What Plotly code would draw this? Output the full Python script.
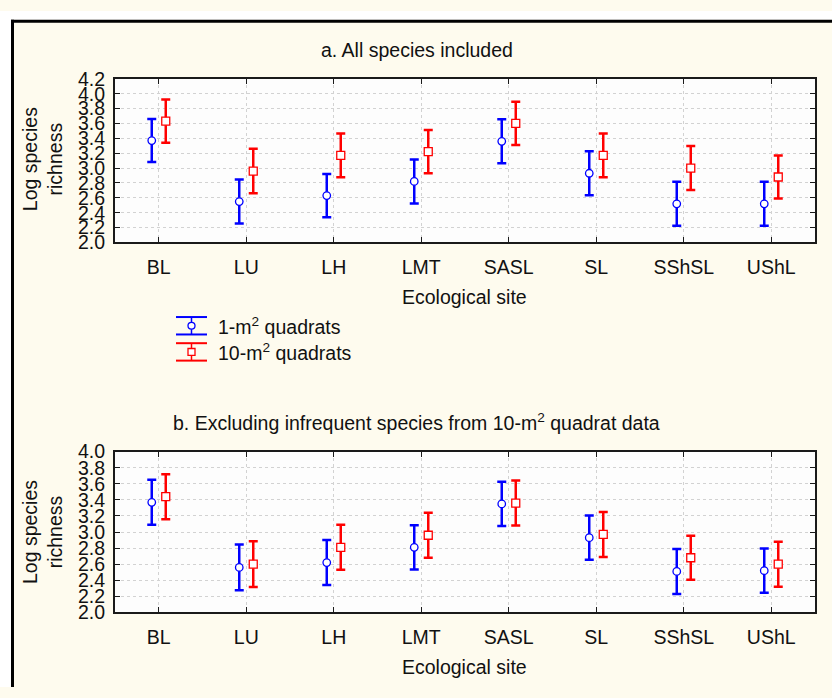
import plotly.graph_objects as go

# Ecological sites (x categories)
sites = ["BL", "LU", "LH", "LMT", "SASL", "SL", "SShSL", "UShL"]

# Panel a: all species included (mean log richness and half-width of error bar)
a_1m = [3.37, 2.55, 2.63, 2.82, 3.36, 2.93, 2.52, 2.52]
a_1m_err = [0.29, 0.295, 0.29, 0.295, 0.295, 0.295, 0.295, 0.295]
a_10m = [3.63, 2.96, 3.17, 3.22, 3.60, 3.17, 3.00, 2.88]
a_10m_err = [0.29, 0.30, 0.295, 0.29, 0.29, 0.295, 0.295, 0.29]

# Panel b: infrequent species excluded from the 10-m2 data
b_1m = [3.37, 2.56, 2.62, 2.81, 3.35, 2.93, 2.51, 2.52]
b_1m_err = [0.28, 0.285, 0.28, 0.275, 0.275, 0.275, 0.28, 0.275]
b_10m = [3.44, 2.60, 2.81, 2.96, 3.36, 2.97, 2.68, 2.60]
b_10m_err = [0.28, 0.285, 0.28, 0.28, 0.28, 0.28, 0.275, 0.28]

a_yticks = [2.0, 2.2, 2.4, 2.6, 2.8, 3.0, 3.2, 3.4, 3.6, 3.8, 4.0, 4.2]
b_yticks = [2.0, 2.2, 2.4, 2.6, 2.8, 3.0, 3.2, 3.4, 3.6, 3.8, 4.0]

W, H = 832, 698
FONT = "Liberation Sans, Arial, sans-serif"
FS = 19.5
BLUE = "#0000FF"
RED = "#FF0000"
CREAM = "#FEFBEE"
GRID = "#d2d2d2"
OFF = 0.08


def px(x):
    return x / W


def py(y):
    return 1 - y / H


idx = list(range(len(sites)))
fig = go.Figure()


def add_pair(y1, e1, y10, e10, xa, ya):
    fig.add_trace(go.Scatter(
        x=[i - OFF for i in idx], y=y1, mode="markers", xaxis=xa, yaxis=ya,
        showlegend=False,
        error_y=dict(type="data", array=e1, symmetric=True, color=BLUE,
                     thickness=2.5, width=4.5),
        marker=dict(symbol="circle", size=7.5, color="white",
                    line=dict(color=BLUE, width=1.3)),
    ))
    fig.add_trace(go.Scatter(
        x=[i + OFF for i in idx], y=y10, mode="markers", xaxis=xa, yaxis=ya,
        showlegend=False,
        error_y=dict(type="data", array=e10, symmetric=True, color=RED,
                     thickness=2.5, width=4.5),
        marker=dict(symbol="square", size=8, color="white",
                    line=dict(color=RED, width=1.3)),
    ))


add_pair(a_1m, a_1m_err, a_10m, a_10m_err, "x", "y")
add_pair(b_1m, b_1m_err, b_10m, b_10m_err, "x2", "y2")

xcommon = dict(
    range=[-0.5, 7.5], tickmode="array", tickvals=idx, ticktext=sites,
    showline=True, linecolor="#1a1a1a", linewidth=2, mirror="ticks",
    ticks="inside", ticklen=5, tickcolor="#1a1a1a", tickwidth=1,
    showgrid=True, gridcolor=GRID, griddash="dot", gridwidth=1,
    zeroline=False, tickfont=dict(family=FONT, size=FS, color="#111"),
    ticklabelstandoff=6, domain=[px(115), px(815)],
)
ycommon = dict(
    showline=True, linecolor="#1a1a1a", linewidth=2, mirror="ticks",
    ticks="inside", ticklen=5, tickcolor="#1a1a1a", tickwidth=1,
    showgrid=True, gridcolor=GRID, griddash="dot", gridwidth=1,
    zeroline=False, tickfont=dict(family=FONT, size=FS, color="#111"),
    ticklabelstandoff=4, tickmode="array",
)

fig.update_layout(
    width=W, height=H, margin=dict(l=0, r=0, t=0, b=0),
    paper_bgcolor=CREAM, plot_bgcolor="#FDFDFD",
    font=dict(family=FONT, size=FS, color="#111"),
    xaxis=dict(**xcommon, anchor="y"),
    yaxis=dict(**ycommon, range=[2.0, 4.2], tickvals=a_yticks,
               ticktext=[f"{v:.1f}" for v in a_yticks],
               domain=[py(239), py(70)], anchor="x"),
    xaxis2=dict(**xcommon, anchor="y2"),
    yaxis2=dict(**ycommon, range=[2.0, 4.0], tickvals=b_yticks,
                ticktext=[f"{v:.1f}" for v in b_yticks],
                domain=[py(621), py(455)], anchor="x2"),
)

# Outer page frame
shapes = [
    dict(type="rect", xref="paper", yref="paper", x0=0, x1=px(11), y0=0, y1=1,
         fillcolor="white", line=dict(width=0)),
    dict(type="rect", xref="paper", yref="paper", x0=0, x1=1, y0=py(9), y1=1,
         fillcolor="white", line=dict(width=0)),
    dict(type="line", xref="paper", yref="paper", x0=px(12.5), x1=px(12.5),
         y0=0, y1=py(9), line=dict(color="black", width=3)),
    dict(type="line", xref="paper", yref="paper", x0=px(11), x1=1,
         y0=py(10.5), y1=py(10.5), line=dict(color="black", width=3)),
]

# Legend drawn as error-bar glyphs
leg = [(BLUE, 316, 334, 325, "circle"), (RED, 343, 361, 352, "square")]
for col, ytop, ybot, yc, kind in leg:
    shapes.append(dict(type="line", xref="paper", yref="paper",
                       x0=px(176), x1=px(207), y0=py(ytop), y1=py(ytop),
                       line=dict(color=col, width=2)))
    shapes.append(dict(type="line", xref="paper", yref="paper",
                       x0=px(176), x1=px(207), y0=py(ybot), y1=py(ybot),
                       line=dict(color=col, width=2)))
    shapes.append(dict(type="line", xref="paper", yref="paper",
                       x0=px(191.5), x1=px(191.5), y0=py(ytop), y1=py(ybot),
                       line=dict(color=col, width=1.5)))
    if kind == "circle":
        shapes.append(dict(type="circle", xref="paper", yref="paper",
                           x0=px(188), x1=px(195), y0=py(yc + 3.5), y1=py(yc - 3.5),
                           fillcolor="white", line=dict(color=col, width=1.3)))
    else:
        shapes.append(dict(type="rect", xref="paper", yref="paper",
                           x0=px(188), x1=px(195), y0=py(yc + 3.5), y1=py(yc - 3.5),
                           fillcolor="white", line=dict(color=col, width=1.3)))
fig.update_layout(shapes=shapes)

ann = []


def text(x, y, s, angle=0, xanchor="center"):
    ann.append(dict(x=px(x), y=py(y), xref="paper", yref="paper", text=s,
                    showarrow=False, textangle=angle, xanchor=xanchor,
                    yanchor="middle", font=dict(family=FONT, size=FS, color="#111")))


text(416.5, 40, "a. All species included")
text(416, 424, "b. Excluding infrequent species from 10-m<sup>2</sup> quadrat data")
text(465, 295, "Ecological site")
text(464, 677, "Ecological site")
text(42, 153, "Log species<br>richness", angle=-90)
text(42, 538, "Log species<br>richness", angle=-90)
text(216, 325, "1-m<sup>2</sup> quadrats", xanchor="left")
text(216, 352, "10-m<sup>2</sup> quadrats", xanchor="left")
fig.update_layout(annotations=ann)

fig.write_html("out.html")
